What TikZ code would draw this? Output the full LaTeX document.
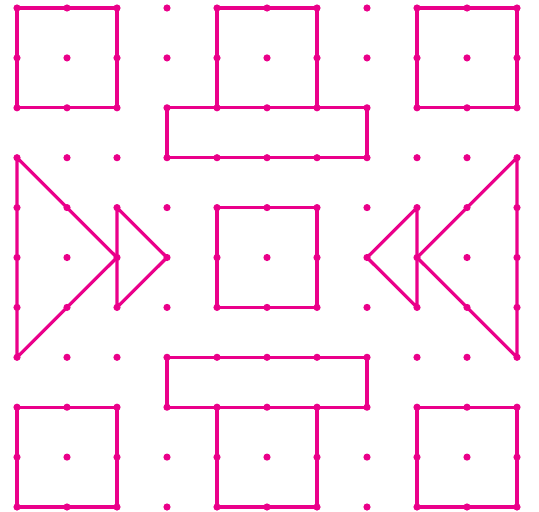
\documentclass[tikz,border=0pt]{standalone}
\definecolor{pinkc}{RGB}{234,0,138}
\tikzset{
  outline/.style={draw=pinkc, line width=3.2pt, line join=round, line cap=round},
  gdot/.style={fill=pinkc}
}
\begin{document}
\begin{tikzpicture}[x=1pt,y=-1pt]
\useasboundingbox (0,0) rectangle (539,512);
\foreach \i in {0,...,10}{
  \foreach \j in {0,...,10}{
    \coordinate (p-\i-\j) at ({17+50*\i},{8+49.9*\j});
  }
}
% squares
\draw[outline] (p-0-0) rectangle (p-2-2);
\draw[outline] (p-8-0) rectangle (p-10-2);
\draw[outline] (p-0-8) rectangle (p-2-10);
\draw[outline] (p-8-8) rectangle (p-10-10);
\draw[outline] (p-4-4) rectangle (p-6-6);
% top T
\draw[outline] (p-4-2) -- (p-4-0) -- (p-6-0) -- (p-6-2);
\draw[outline] (p-3-2) rectangle (p-7-3);
% bottom T
\draw[outline] (p-3-7) rectangle (p-7-8);
\draw[outline] (p-4-8) -- (p-4-10) -- (p-6-10) -- (p-6-8);
% left triangles
\draw[outline] (p-0-3) -- (p-2-5) -- (p-0-7) -- cycle;
\draw[outline] (p-2-4) -- (p-3-5) -- (p-2-6) -- cycle;
% right triangles
\draw[outline] (p-10-3) -- (p-8-5) -- (p-10-7) -- cycle;
\draw[outline] (p-8-4) -- (p-7-5) -- (p-8-6) -- cycle;
% dots
\foreach \i in {0,...,10}{
  \foreach \j in {0,...,10}{
    \fill[gdot] (p-\i-\j) circle (3.6pt);
  }
}
\end{tikzpicture}
\end{document}
